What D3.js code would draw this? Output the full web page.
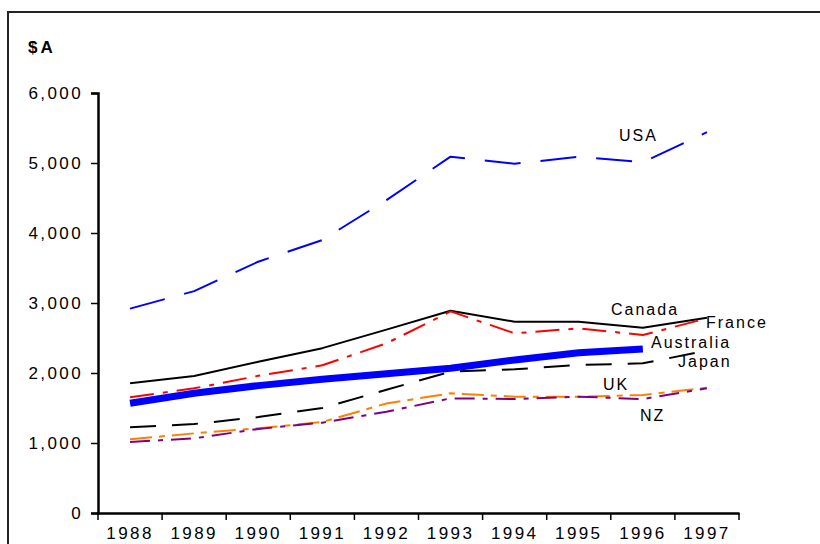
<!DOCTYPE html>
<html>
<head>
<meta charset="utf-8">
<script src="https://cdn.jsdelivr.net/npm/d3@7"></script>
<style>
  html, body { margin: 0; padding: 0; background: #fff; }
  svg { display: block; font-family: "Liberation Sans", Arial, sans-serif; }
</style>
</head>
<body>
<svg id="chart" width="820" height="544"></svg>
<script>
// Years on the category axis
const years = ["1988", "1989", "1990", "1991", "1992", "1993", "1994", "1995", "1996", "1997"];
// Value axis ticks ($A)
const yTicks = [0, 1000, 2000, 3000, 4000, 5000, 6000];

// Series values, one per year (null = no data)
const usa       = [2920, 3170, 3590, 3900, 4470, 5090, 4990, 5090, 5010, 5440];
const canada    = [1855, 1957, 2160, 2355, 2620, 2890, 2733, 2733, 2647, 2790];
const france    = [1653, 1781, 1960, 2110, 2424, 2880, 2567, 2638, 2543, 2781];
const australia = [1567, 1710, 1820, 1910, 1990, 2067, 2186, 2290, 2343, null];
const japan     = [1224, 1271, 1370, 1500, 1760, 2019, 2053, 2114, 2138, 2319];
const uk        = [1052, 1138, 1210, 1300, 1565, 1710, 1662, 1660, 1686, 1790];
const nz        = [1014, 1067, 1200, 1290, 1447, 1638, 1628, 1662, 1628, 1781];

const seriesNames = ["USA", "Canada", "France", "Australia", "Japan", "UK", "NZ"];
const seriesValues = [usa, canada, france, australia, japan, uk, nz];

// Drawing styles for each series
const styles = {
  "USA":       { color: "#0000ff", width: 2, dash: "36,20" },
  "Canada":    { color: "#000000", width: 2, dash: null },
  "France":    { color: "#ff0000", width: 2, dash: "24,9,5,9" },
  "Australia": { color: "#0000ff", width: 7, dash: null },
  "Japan":     { color: "#000000", width: 2, dash: "26,16" },
  "UK":        { color: "#ff8000", width: 2, dash: "22,7,6,7" },
  "NZ":        { color: "#800080", width: 2, dash: "20,8,5,8" }
};

// End labels: [x, baseline y]
const labelPos = {
  "USA":       [619, 141],
  "Canada":    [611, 315],
  "France":    [706, 328],
  "Australia": [651, 348],
  "Japan":     [678, 367],
  "UK":        [603, 390],
  "NZ":        [640, 421]
};

const svg = d3.select("#chart");

// Outer frame
svg.append("rect")
  .attr("x", 8).attr("y", 12)
  .attr("width", 830).attr("height", 560)
  .attr("fill", "none")
  .attr("stroke", "#222")
  .attr("stroke-width", 2);

const x = d3.scaleBand().domain(years).range([98, 739]);
const y = d3.scaleLinear().domain([0, 6000]).range([513, 93]);

// Y axis
const yAxis = svg.append("g")
  .attr("transform", "translate(98,0)")
  .call(d3.axisLeft(y).tickValues(yTicks).tickSize(7).tickPadding(8)
    .tickFormat(d3.format(",")));
yAxis.select(".domain").attr("stroke", "#000").attr("stroke-width", 2.5);
yAxis.selectAll(".tick line").attr("stroke", "#000").attr("stroke-width", 1.5);
yAxis.selectAll("text")
  .attr("font-size", 17)
  .attr("letter-spacing", 2.4)
  .attr("fill", "#000")
  .attr("font-family", "Liberation Sans, Arial, sans-serif");

// X axis with ticks on band boundaries
const xAxis = svg.append("g")
  .attr("transform", "translate(0,513)")
  .call(d3.axisBottom(x).tickSize(0).tickPadding(14));
xAxis.select(".domain").attr("stroke", "#000").attr("stroke-width", 2.5);
xAxis.selectAll("text")
  .attr("font-size", 17)
  .attr("letter-spacing", 2.4)
  .attr("fill", "#000")
  .attr("font-family", "Liberation Sans, Arial, sans-serif");
const bounds = years.map(d => x(d)).concat([x.range()[1]]);
xAxis.selectAll(".bound")
  .data(bounds)
  .enter().append("line")
  .attr("class", "bound")
  .attr("x1", d => d).attr("x2", d => d)
  .attr("y1", 0).attr("y2", 7)
  .attr("stroke", "#000").attr("stroke-width", 1.5);

// Unit label
svg.append("text")
  .attr("x", 28).attr("y", 53)
  .attr("font-size", 17)
  .attr("font-weight", "bold")
  .attr("letter-spacing", 3)
  .text("$A");

// Lines
const line = d3.line()
  .defined(d => d.v !== null)
  .x(d => x(d.year) + x.bandwidth() / 2)
  .y(d => y(d.v));

seriesNames.forEach((name, i) => {
  const pts = years.map((yr, j) => ({ year: yr, v: seriesValues[i][j] }));
  const s = styles[name];
  svg.append("path")
    .datum(pts)
    .attr("fill", "none")
    .attr("stroke", s.color)
    .attr("stroke-width", s.width)
    .attr("stroke-dasharray", s.dash)
    .attr("stroke-linejoin", "round")
    .attr("d", line);
});

// Series labels
seriesNames.forEach(name => {
  const p = labelPos[name];
  svg.append("text")
    .attr("x", p[0]).attr("y", p[1])
    .attr("font-size", 16)
    .attr("letter-spacing", 2)
    .attr("fill", "#000")
    .text(name);
});
</script>
</body>
</html>
